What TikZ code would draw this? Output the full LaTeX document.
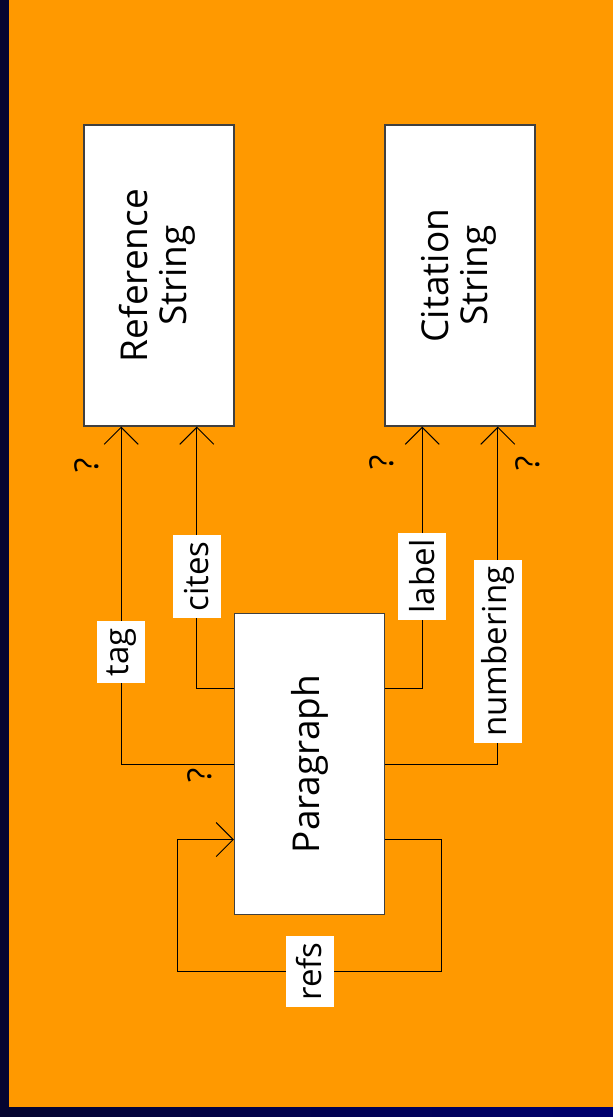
\documentclass[tikz,border=0pt]{standalone}
\usepackage{fontspec}
\usepackage{graphicx}
\setmainfont{Open Sans}
\usetikzlibrary{arrows.meta,calc}
\definecolor{bgorange}{RGB}{255,153,0}
\definecolor{navydark}{RGB}{5,5,48}
\definecolor{navylight}{RGB}{0,0,110}
\begin{document}
\begin{tikzpicture}[x=1pt,y=-1pt,
  box/.style={draw=black!75, line width=1.3pt, fill=white,
    minimum width=150pt, minimum height=301pt, inner sep=0pt,
    font=\fontsize{37}{39}\selectfont},
  lbl/.style={fill=white, inner xsep=0pt, inner ysep=6.5pt,
    minimum width=48pt, font=\fontsize{33}{36}\selectfont},
  qmark/.style={inner sep=0pt, font=\fontsize{33}{36}\selectfont},
  conn/.style={line width=1pt, draw=black,
    -{Straight Barb[length=17pt,width=34pt,line width=1pt]}},
  loopline/.style={line width=1pt, draw=black}]
  \useasboundingbox (0,0) rectangle (613,1117);
  % background and frame
  \fill[bgorange] (0,0) rectangle (613,1117);
  \fill[navydark] (0,0) rectangle (9,1117);
  \shade[left color=navydark, right color=navylight] (9,1107) rectangle (613,1117);

  % boxes
  \node[box] (ref) at (159,275.5)
    {\rotatebox{90}{\begin{tabular}{@{}c@{}}Reference\\String\end{tabular}}};
  \node[box] (cit) at (460,275.5)
    {\rotatebox{90}{\begin{tabular}{@{}c@{}}Citation\\String\end{tabular}}};
  \node[box] (par) at (309.5,764) {\rotatebox{90}{Paragraph}};

  % attachment points
  \coordinate (refA) at ($(ref.south west)!0.25!(ref.south east)$);
  \coordinate (refB) at ($(ref.south west)!0.75!(ref.south east)$);
  \coordinate (citA) at ($(cit.south west)!0.25!(cit.south east)$);
  \coordinate (citB) at ($(cit.south west)!0.75!(cit.south east)$);
  \coordinate (parNW) at ($(par.north west)!0.25!(par.south west)$);
  \coordinate (parSW) at ($(par.north west)!0.75!(par.south west)$);
  \coordinate (parNE) at ($(par.north east)!0.25!(par.south east)$);
  \coordinate (parSE) at ($(par.north east)!0.75!(par.south east)$);
  \coordinate (loopR) at ($(parSE)+(56,132)$);
  \coordinate (loopL) at ($(parSW)+(-56,132)$);

  % connectors
  \draw[conn] (par.west) -| (refA);
  \draw[conn] (parNW) -| (refB);
  \draw[conn] (parNE) -| (citA);
  \draw[conn] (par.east) -| (citB);
  \draw[conn] (parSE) -| (loopR) -- (loopL) |- (parSW);

  % connector labels
  \node[lbl] (tagL) at (refA |- 0,652) {\rotatebox{90}{tag}};
  \node[lbl] (citesL) at (refB |- 0,576.5) {\rotatebox{90}{cites}};
  \node[lbl] (labelL) at (citA |- 0,576.5) {\rotatebox{90}{label}};
  \node[lbl] (numL) at (citB |- 0,651.5) {\rotatebox{90}{numbering}};
  \node[lbl] (refsL) at ($(loopL)!0.5!(loopR)$) {\rotatebox{90}{refs}};

  % multiplicity marks
  \node[qmark] (q1) at (87,465) {\rotatebox{90}{?}};
  \node[qmark] (q2) at (382,462) {\rotatebox{90}{?}};
  \node[qmark] (q3) at (528,463) {\rotatebox{90}{?}};
  \node[qmark] (q4) at (200,775) {\rotatebox{90}{?}};
\end{tikzpicture}
\end{document}
